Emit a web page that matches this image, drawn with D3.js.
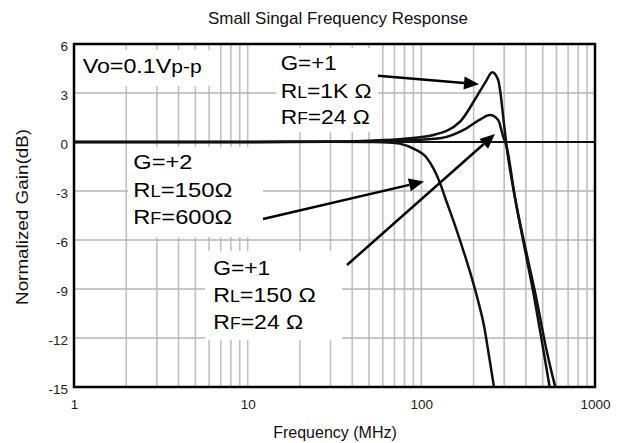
<!DOCTYPE html>
<html><head><meta charset="utf-8">
<script src="https://cdn.jsdelivr.net/npm/d3@7"></script>
<style>
body{margin:0;background:#fff;}
text{font-family:"Liberation Sans",Arial,sans-serif;}
</style></head>
<body><svg id="c" width="621" height="443"></svg>
<script>
const xTicks = [1, 10, 100, 1000];
const xTickLabels = ["1", "10", "100", "1000"];
const yTicks = [6, 3, 0, -3, -6, -9, -12, -15];
const yTickLabels = ["6", "3", "0", "-3", "-6", "-9", "-12", "-15"];

const freqG1RL1K = [1, 10, 30, 50, 80, 117, 167, 208, 235, 256, 277, 284, 296, 310, 346, 407, 462, 520, 590];
const gainG1RL1K = [0, 0, 0.02, 0.08, 0.2, 0.43, 1.24, 2.77, 3.7, 4.27, 3.8, 3.18, 1.55, -0.3, -3.4, -7.0, -9.7, -12.5, -15];

const freqG1RL150 = [1, 10, 30, 50, 80, 128, 182, 220, 248, 277, 296, 310, 346, 402, 450, 500, 548];
const gainG1RL150 = [0, 0, 0.02, 0.05, 0.1, 0.23, 0.84, 1.4, 1.65, 1.35, 0.33, -0.3, -3.4, -7.0, -9.7, -12.5, -15];

const freqG2 = [1, 10, 30, 50, 65, 75, 90, 107, 128, 137, 155, 174, 195, 212, 230, 242, 262];
const gainG2 = [0, 0, 0.02, 0.0, -0.03, -0.1, -0.4, -0.95, -2.5, -3.4, -5.0, -6.6, -8.3, -9.7, -11.3, -12.7, -15];

const svg = d3.select("#c");
const L = 74, R = 595, T = 44, B = 387;
const x = d3.scaleLog().domain([1, 1000]).range([L, R]);
const y = d3.scaleLinear().domain([-15, 6]).range([B, T]);

// vertical gridlines
const vgrid = [];
[1, 10, 100].forEach(d => { for (let k = 1; k <= 9; k++) { if (d * k > 1) vgrid.push(d * k); } });
svg.append("g").selectAll("line").data(vgrid).join("line")
  .attr("x1", d => x(d)).attr("x2", d => x(d)).attr("y1", T).attr("y2", B)
  .attr("stroke", "#c0c0c0").attr("stroke-width", 1.6);
svg.append("g").selectAll("line").data(yTicks.filter(v => v !== 0 && v !== 6 && v !== -15)).join("line")
  .attr("x1", L).attr("x2", R).attr("y1", d => y(d)).attr("y2", d => y(d))
  .attr("stroke", "#b4b4b4").attr("stroke-width", 1.6);

// white label backgrounds
const boxes = [[75, 50, 145, 36], [276, 48, 102, 84], [128, 147, 135, 90], [205, 251, 137, 89]];
svg.append("g").selectAll("rect").data(boxes).join("rect")
  .attr("x", d => d[0]).attr("y", d => d[1]).attr("width", d => d[2]).attr("height", d => d[3])
  .attr("fill", "#fff");

// 0 dB line
svg.append("line").attr("x1", L).attr("x2", R).attr("y1", y(0)).attr("y2", y(0))
  .attr("stroke", "#111").attr("stroke-width", 2);

// curves
const line = d3.line().x(d => x(d[0])).y(d => y(d[1])).curve(d3.curveMonotoneX);
const series = [[freqG1RL1K, gainG1RL1K], [freqG1RL150, gainG1RL150], [freqG2, gainG2]];
svg.append("clipPath").attr("id", "cp").append("rect")
  .attr("x", L).attr("y", T).attr("width", R - L).attr("height", B - T);
svg.append("g").attr("clip-path", "url(#cp)").selectAll("path").data(series).join("path")
  .attr("d", s => line(s[0].map((f, i) => [f, s[1][i]])))
  .attr("fill", "none").attr("stroke", "#111").attr("stroke-width", 2.5);

// frame
svg.append("rect").attr("x", L).attr("y", T).attr("width", R - L).attr("height", B - T)
  .attr("fill", "none").attr("stroke", "#000").attr("stroke-width", 2.5);

// axes
const yAxis = d3.axisLeft(y).tickValues(yTicks).tickSize(0).tickPadding(6)
  .tickFormat((d, i) => yTickLabels[i]);
const gy = svg.append("g").attr("transform", `translate(${L},0)`).call(yAxis);
gy.select(".domain").remove();
gy.selectAll("text").attr("font-size", 13.5).attr("fill", "#222").attr("dy", "0.45em")
  .style("font-family", '"Liberation Sans",Arial,sans-serif');

const xAxis = d3.axisBottom(x).tickValues(xTicks).tickSize(0).tickPadding(12)
  .tickFormat((d, i) => xTickLabels[i]);
const gx = svg.append("g").attr("transform", `translate(0,${B})`).call(xAxis);
gx.select(".domain").remove();
gx.selectAll("text").attr("font-size", 13.5).attr("fill", "#222")
  .style("font-family", '"Liberation Sans",Arial,sans-serif');

svg.append("text").attr("x", 338).attr("y", 24).attr("text-anchor", "middle")
  .attr("font-size", 17).attr("textLength", 260).attr("lengthAdjust", "spacingAndGlyphs")
  .attr("fill", "#111").text("Small Singal Frequency Response");
svg.append("text").attr("x", 335).attr("y", 438).attr("text-anchor", "middle")
  .attr("font-size", 16).attr("fill", "#111").text("Frequency (MHz)");
svg.append("text").attr("transform", "translate(28,217) rotate(-90)").attr("text-anchor", "middle")
  .attr("font-size", 17).attr("textLength", 176).attr("lengthAdjust", "spacingAndGlyphs")
  .attr("fill", "#111").text("Normalized Gain(dB)");

// annotations
function label(xp, yp, w, main, sub, rest, subSize) {
  const t = svg.append("text").attr("x", xp).attr("y", yp).attr("font-size", 21).attr("fill", "#000")
    .attr("textLength", w).attr("lengthAdjust", "spacingAndGlyphs");
  t.append("tspan").text(main);
  if (sub) t.append("tspan").attr("font-size", subSize || 16).text(sub);
  if (rest) t.append("tspan").text(rest);
}
label(82.7, 72.7, 119, "Vo=0.1V", "p-p", null, 19);
label(280.7, 70, 56, "G=+1");
label(280.7, 98.3, 91, "R", "L", "=1K Ω");
label(280.7, 124.3, 89, "R", "F", "=24 Ω");
label(133.3, 169.3, 59, "G=+2");
label(133.3, 197.3, 99, "R", "L", "=150Ω");
label(133.3, 224, 99, "R", "F", "=600Ω");
label(213.3, 275, 57, "G=+1");
label(213.3, 302.3, 102.5, "R", "L", "=150 Ω");
label(213.3, 329.3, 90, "R", "F", "=24 Ω");

// arrows
const arrows = [[378, 75.7, 479, 84.3], [263, 219, 424, 181.5], [347, 265, 495, 134]];
arrows.forEach(a => {
  const [x1, y1, x2, y2] = a;
  const ang = Math.atan2(y2 - y1, x2 - x1);
  const len = 15, hw = 6.5;
  const bx = x2 - len * Math.cos(ang), by = y2 - len * Math.sin(ang);
  svg.append("line").attr("x1", x1).attr("y1", y1).attr("x2", bx).attr("y2", by)
    .attr("stroke", "#000").attr("stroke-width", 2.5);
  const px = -Math.sin(ang) * hw, py = Math.cos(ang) * hw;
  svg.append("path").attr("d", `M${x2},${y2}L${bx + px},${by + py}L${bx - px},${by - py}Z`).attr("fill", "#000");
});
</script></body></html>
